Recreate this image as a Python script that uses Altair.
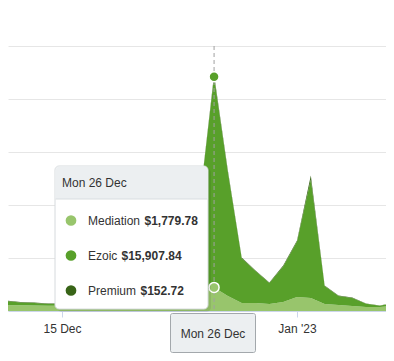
import json
import altair as alt
import pandas as pd

FONT = "Liberation Sans, Arial, Helvetica, sans-serif"

dates = [
    "2022-12-10", "2022-12-11", "2022-12-12", "2022-12-13", "2022-12-14",
    "2022-12-15", "2022-12-16", "2022-12-17", "2022-12-18", "2022-12-19",
    "2022-12-20", "2022-12-21", "2022-12-22", "2022-12-23", "2022-12-24",
    "2022-12-25", "2022-12-26", "2022-12-27", "2022-12-28", "2022-12-29",
    "2022-12-30", "2022-12-31", "2023-01-01", "2023-01-02", "2023-01-03",
    "2023-01-04", "2023-01-05", "2023-01-06", "2023-01-07", "2023-01-08",
]
mediation = [
    450, 440, 430, 420, 400, 400, 400, 420, 410, 430,
    450, 470, 500, 600, 900, 1400, 1779.78, 1130, 600, 600,
    530, 680, 1060, 980, 530, 450, 380, 300, 300, 380,
]
ezoic = [
    230, 310, 215, 185, 135, 125, 170, 200, 180, 240,
    270, 300, 360, 650, 2250, 7250, 15907.84, 9370, 3390, 2420,
    1580, 2670, 4180, 8950, 1355, 690, 610, 245, 90, 235,
]
premium = [
    40, 40, 35, 35, 35, 35, 30, 30, 30, 30,
    30, 30, 40, 50, 50, 50, 152.72, 100, 50, 40,
    40, 80, 80, 300, 40, 30, 30, 25, 25, 25,
]
series = ["Mediation", "Ezoic", "Premium"]
colors = ["#98c56c", "#58a02a", "#386417"]
tick_dates = ["2022-12-15", "2023-01-01"]
tick_labels = ["15 Dec", "Jan '23"]
hover_date = "2022-12-26"
y_grid = [0, 4000, 8000, 12000, 16000, 20000]

# ---- build tables ----
origin = pd.Timestamp("2022-12-15")
day = [(pd.Timestamp(d) - origin).days for d in dates]
rows = []
for i, d in enumerate(dates):
    for k, (name, vals) in enumerate(zip(series, [mediation, ezoic, premium])):
        rows.append({"date": d, "day": day[i], "series": name, "value": vals[i], "rank": k})
df = pd.DataFrame(rows)

tick_days = [(pd.Timestamp(t) - origin).days for t in tick_dates]
label_expr = json.dumps(tick_labels[-1])
for tdv, tl in zip(tick_days[:-1][::-1], tick_labels[:-1][::-1]):
    label_expr = f"datum.value == {tdv} ? {json.dumps(tl)} : ({label_expr})"

hi = dates.index(hover_date)
hover_day = day[hi]
hover_title = pd.Timestamp(hover_date).strftime("%a %d %b")
hover_vals = [mediation[hi], ezoic[hi], premium[hi]]
cum = [sum(hover_vals[: k + 1]) for k in range(3)]
hover_df = pd.DataFrame({"day": [hover_day] * 3, "series": series, "top": cum,
                         "value": hover_vals})

W, H = 378, 265
px_per_day = 13.824
x0 = 54  # pixel of first tick inside plot
xdom = [tick_days[0] - x0 / px_per_day, tick_days[0] + (W - x0) / px_per_day]
xscale = alt.Scale(domain=xdom, nice=False, zero=False)
yscale = alt.Scale(domain=[0, 20000], nice=False)
cscale = alt.Scale(domain=series, range=colors)

xaxis = alt.Axis(values=tick_days, labelExpr=label_expr, grid=False, title=None,
                 domainColor="#ccd6eb", tickColor="#ccd6eb", tickSize=6,
                 labelPadding=6, labelFontSize=12, labelColor="#333333",
                 labelFont=FONT)
yaxis = alt.Axis(values=y_grid, labels=False, ticks=False, domain=False, title=None,
                 gridColor="#e6e6e6", gridWidth=1)

base = alt.Chart(df)

areas = base.mark_area(interpolate="linear", clip=True).encode(
    x=alt.X("day:Q", scale=xscale, axis=xaxis),
    y=alt.Y("value:Q", stack="zero", scale=yscale, axis=yaxis),
    color=alt.Color("series:N", scale=cscale, legend=None),
    order=alt.Order("rank:Q"),
)

hov = alt.Chart(hover_df)
cross = hov.transform_filter(alt.datum.series == "Ezoic").mark_rule(
    color="#a0a0a0", strokeDash=[4, 3], strokeWidth=1
).encode(x=alt.X("day:Q", scale=xscale), y=alt.value(0), y2=alt.value(H))

markers = hov.transform_filter(alt.datum.series != "Premium").mark_point(
    filled=True, size=100, stroke="white", strokeWidth=1.5, opacity=1
).encode(
    x=alt.X("day:Q", scale=xscale),
    y=alt.Y("top:Q", scale=yscale),
    fill=alt.Color("series:N", scale=cscale, legend=None),
)

one = alt.Chart(pd.DataFrame({"k": [0]}))
tx0, tx1, ty0, ty1, th = 47, 200, 120, 263, 153
shadow = one.mark_rect(fill="#000000", opacity=0.07, cornerRadius=5).encode(
    x=alt.value(tx0 + 2), x2=alt.value(tx1 + 3), y=alt.value(ty0 + 2), y2=alt.value(ty1 + 3))
box = one.mark_rect(fill="white", stroke="#d6dadd", strokeWidth=1, cornerRadius=4).encode(
    x=alt.value(tx0), x2=alt.value(tx1), y=alt.value(ty0), y2=alt.value(ty1))
header = one.mark_rect(fill="#eceff1", cornerRadiusTopLeft=4, cornerRadiusTopRight=4).encode(
    x=alt.value(tx0 + 0.5), x2=alt.value(tx1 - 0.5), y=alt.value(ty0 + 0.5), y2=alt.value(th))
sep = one.mark_rule(color="#d9dde0").encode(
    x=alt.value(tx0 + 0.5), x2=alt.value(tx1 - 0.5), y=alt.value(th))
head_txt = one.mark_text(align="left", baseline="middle", fontSize=12, font=FONT,
                         color="#333333", text=hover_title).encode(
    x=alt.value(54), y=alt.value(137))

layers = [areas, cross, markers, shadow, box, header, sep, head_txt]
row_y = [174.5, 209.5, 244.5]
val_x = [136.5, 113.5, 132.5]
for k, name in enumerate(series):
    layers.append(one.mark_circle(size=115, opacity=1, color=colors[k]).encode(
        x=alt.value(63), y=alt.value(row_y[k])))
    layers.append(one.mark_text(align="left", baseline="middle", fontSize=12, font=FONT,
                                color="#333333", text=name).encode(
        x=alt.value(80), y=alt.value(row_y[k])))
    layers.append(one.mark_text(align="left", baseline="middle", fontSize=12, font=FONT,
                                fontWeight="bold", color="#333333",
                                text=f"${hover_vals[k]:,.2f}").encode(
        x=alt.value(val_x[k]), y=alt.value(row_y[k])))

lab_box = one.mark_rect(fill="#eceff1", stroke="#a3a8ac", strokeWidth=1, cornerRadius=2).encode(
    x=alt.value(162.5), x2=alt.value(247.5), y=alt.value(267.5), y2=alt.value(306.5))
lab_txt = one.mark_text(align="center", baseline="middle", fontSize=12, font=FONT,
                        color="#333333", text=hover_title).encode(
    x=alt.value(205), y=alt.value(287.5))
layers += [lab_box, lab_txt]

chart = alt.layer(*layers).properties(
    width=W, height=H,
    padding={"left": 0, "top": 37, "right": 0, "bottom": 0},
).configure_view(stroke=None)

chart.save("out.html", embed_options={"renderer": "svg", "actions": False})
